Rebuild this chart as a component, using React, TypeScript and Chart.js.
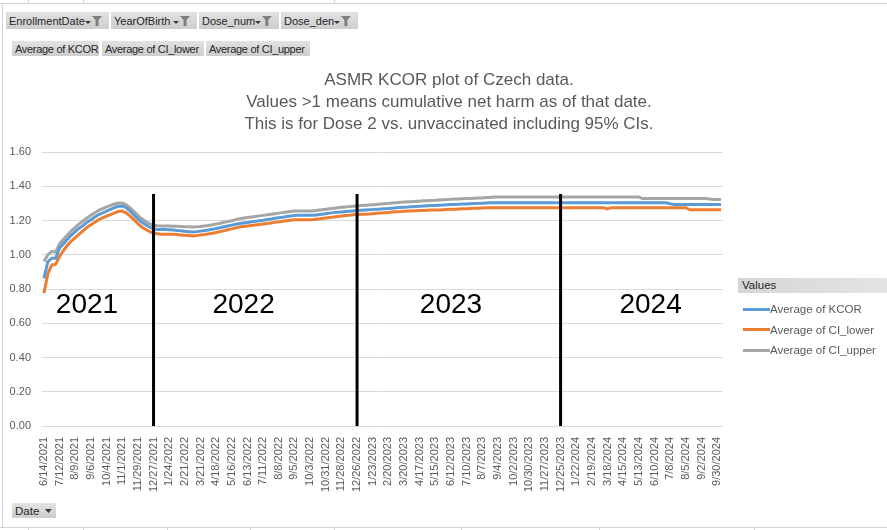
import React, { useEffect, useRef } from 'react';
import { Chart, registerables } from 'chart.js';

Chart.register(...registerables);

// ---------------- data ----------------
const kcor = [
  0.862, 0.96, 0.98, 0.98, 1.04, 1.065, 1.09, 1.115, 1.135, 1.155,
  1.17, 1.19, 1.205, 1.22, 1.235, 1.245, 1.255, 1.265, 1.275, 1.283,
  1.285, 1.275, 1.255, 1.233, 1.21, 1.19, 1.175, 1.162, 1.152, 1.147,
  1.147, 1.147, 1.146, 1.145, 1.142, 1.14, 1.137, 1.135, 1.133, 1.135,
  1.138, 1.141, 1.145, 1.149, 1.153, 1.158, 1.163, 1.168, 1.173, 1.178,
  1.182, 1.185, 1.188, 1.192, 1.195, 1.199, 1.202, 1.206, 1.209, 1.213,
  1.216, 1.219, 1.223, 1.226, 1.229, 1.23, 1.23, 1.23, 1.23, 1.231,
  1.234, 1.237, 1.24, 1.243, 1.246, 1.248, 1.25, 1.252, 1.254, 1.256,
  1.258, 1.26, 1.262, 1.263, 1.264, 1.266, 1.267, 1.269, 1.27, 1.272,
  1.274, 1.276, 1.278, 1.279, 1.281, 1.282, 1.283, 1.285, 1.286, 1.287,
  1.288, 1.289, 1.29, 1.292, 1.293, 1.294, 1.295, 1.296, 1.297, 1.298,
  1.299, 1.3, 1.301, 1.302, 1.303, 1.304, 1.304, 1.304, 1.304, 1.304,
  1.304, 1.304, 1.304, 1.304, 1.304, 1.304, 1.304, 1.304, 1.304, 1.304,
  1.304, 1.304, 1.304, 1.304, 1.304, 1.304, 1.304, 1.304, 1.304, 1.304,
  1.304, 1.304, 1.304, 1.304, 1.304, 1.304, 1.304, 1.304, 1.304, 1.304,
  1.304, 1.304, 1.304, 1.304, 1.304, 1.304, 1.304, 1.304, 1.304, 1.304,
  1.298, 1.294, 1.294, 1.294, 1.294, 1.294, 1.294, 1.294, 1.294, 1.294,
  1.294, 1.294, 1.294, 1.294,
];

const ciLower = [
  0.775, 0.89, 0.94, 0.945, 0.99, 1.025, 1.055, 1.08, 1.1, 1.12,
  1.14, 1.16, 1.175, 1.19, 1.205, 1.215, 1.225, 1.235, 1.245, 1.252,
  1.255, 1.245, 1.226, 1.205, 1.182, 1.162, 1.147, 1.135, 1.127, 1.122,
  1.12, 1.119, 1.12, 1.12, 1.118, 1.116, 1.114, 1.112, 1.11, 1.112,
  1.115, 1.118, 1.122, 1.126, 1.13, 1.135, 1.14, 1.146, 1.151, 1.157,
  1.162, 1.165, 1.168, 1.171, 1.174, 1.177, 1.18, 1.183, 1.186, 1.189,
  1.192, 1.195, 1.198, 1.201, 1.204, 1.205, 1.205, 1.205, 1.205, 1.206,
  1.209, 1.212, 1.215, 1.218, 1.221, 1.224, 1.226, 1.229, 1.231, 1.234,
  1.235, 1.236, 1.237, 1.238, 1.24, 1.242, 1.244, 1.245, 1.247, 1.249,
  1.251, 1.252, 1.254, 1.255, 1.256, 1.257, 1.258, 1.259, 1.26, 1.261,
  1.262, 1.262, 1.263, 1.264, 1.265, 1.266, 1.267, 1.268, 1.269, 1.27,
  1.271, 1.272, 1.273, 1.274, 1.275, 1.275, 1.275, 1.275, 1.275, 1.275,
  1.275, 1.275, 1.275, 1.275, 1.275, 1.275, 1.275, 1.275, 1.275, 1.275,
  1.275, 1.275, 1.275, 1.275, 1.275, 1.275, 1.275, 1.275, 1.275, 1.275,
  1.275, 1.275, 1.275, 1.275, 1.268, 1.275, 1.275, 1.275, 1.275, 1.275,
  1.275, 1.275, 1.275, 1.275, 1.275, 1.275, 1.275, 1.275, 1.275, 1.275,
  1.275, 1.275, 1.275, 1.275, 1.275, 1.263, 1.263, 1.263, 1.263, 1.263,
  1.263, 1.263, 1.263, 1.263,
];

const ciUpper = [
  0.96, 1.0, 1.02, 1.015, 1.065, 1.09, 1.115, 1.14, 1.16, 1.18,
  1.197, 1.215, 1.23, 1.245, 1.26, 1.27, 1.28, 1.288, 1.296, 1.302,
  1.302, 1.292, 1.274, 1.252, 1.23, 1.21, 1.194, 1.181, 1.172, 1.169,
  1.168, 1.168, 1.168, 1.167, 1.166, 1.165, 1.164, 1.163, 1.162, 1.163,
  1.165, 1.168, 1.171, 1.175, 1.179, 1.184, 1.189, 1.194, 1.199, 1.205,
  1.211, 1.214, 1.217, 1.221, 1.224, 1.227, 1.23, 1.233, 1.237, 1.24,
  1.243, 1.246, 1.249, 1.252, 1.255, 1.256, 1.256, 1.256, 1.256, 1.257,
  1.26, 1.263, 1.266, 1.269, 1.272, 1.275, 1.277, 1.279, 1.281, 1.283,
  1.285, 1.287, 1.289, 1.29, 1.292, 1.294, 1.296, 1.298, 1.3, 1.302,
  1.304, 1.306, 1.308, 1.309, 1.31, 1.312, 1.313, 1.315, 1.316, 1.317,
  1.318, 1.32, 1.321, 1.322, 1.324, 1.325, 1.326, 1.327, 1.328, 1.329,
  1.33, 1.331, 1.332, 1.334, 1.335, 1.337, 1.337, 1.337, 1.337, 1.337,
  1.337, 1.337, 1.337, 1.337, 1.337, 1.337, 1.337, 1.337, 1.337, 1.337,
  1.337, 1.337, 1.337, 1.337, 1.337, 1.337, 1.337, 1.337, 1.337, 1.337,
  1.337, 1.337, 1.337, 1.337, 1.337, 1.337, 1.337, 1.337, 1.337, 1.337,
  1.337, 1.337, 1.337, 1.328, 1.328, 1.328, 1.328, 1.328, 1.328, 1.328,
  1.328, 1.328, 1.328, 1.328, 1.328, 1.328, 1.328, 1.328, 1.328, 1.328,
  1.325, 1.322, 1.322, 1.322,
];

// weekly categories starting on 6/14/2021
const firstWeek = Date.UTC(2021, 5, 14);
const categories: string[] = kcor.map((_, i) => {
  const d = new Date(firstWeek + i * 7 * 86400000);
  return `${d.getUTCMonth() + 1}/${d.getUTCDate()}/${d.getUTCFullYear()}`;
});

const seriesNames = ['Average of KCOR', 'Average of CI_lower', 'Average of CI_upper'];
const seriesColors = ['#5B9BD5', '#ED7D31', '#A5A5A5'];

const yTicks = { min: 0, max: 1.6, step: 0.2 };

const dividerDates = ['12/27/2021', '12/26/2022', '12/25/2023'];
const dividerTop = 1.355;

const yearLabels = ['2021', '2022', '2023', '2024'];
const yearAnchors = ['8/30/2021', '6/6/2022', '6/12/2023', '6/3/2024'];
const yearBaseline = 0.66;

const titleLines = [
  'ASMR KCOR plot of Czech data.',
  'Values >1 means cumulative net harm as of that date.',
  'This is for Dose 2 vs. unvaccinated including 95% CIs.',
];

const filterFields = ['EnrollmentDate', 'YearOfBirth', 'Dose_num', 'Dose_den'];
const valueFields = ['Average of KCOR', 'Average of CI_lower', 'Average of CI_upper'];

const FONT = '"Liberation Sans", Arial, sans-serif';

const annotationPlugin = {
  id: 'annot',
  afterDatasetsDraw(chart: any) {
    const { ctx, scales } = chart;
    const xs = scales.x;
    const ys = scales.y;
    ctx.save();
    ctx.strokeStyle = '#000000';
    ctx.lineWidth = 3;
    dividerDates.forEach((d) => {
      const idx = categories.indexOf(d);
      const x = xs.getPixelForValue(idx);
      ctx.beginPath();
      ctx.moveTo(x, ys.getPixelForValue(dividerTop));
      ctx.lineTo(x, ys.getPixelForValue(0));
      ctx.stroke();
    });
    ctx.fillStyle = '#000000';
    ctx.font = `28px ${FONT}`;
    ctx.textAlign = 'center';
    ctx.textBaseline = 'alphabetic';
    yearLabels.forEach((t, i) => {
      const idx = categories.indexOf(yearAnchors[i]);
      ctx.fillText(t, xs.getPixelForValue(idx), ys.getPixelForValue(yearBaseline));
    });
    ctx.restore();
  },
};

function Funnel() {
  return (
    <svg width="18" height="12" viewBox="0 0 18 12" style={{ marginLeft: 'auto', marginRight: 6 }}>
      <polygon points="0,6 6,6 3,9" fill="#3a3a3a" />
      <polygon points="7,1 17,1 13.5,5 13.5,11 10.5,11 10.5,5" fill="#7f7f7f" />
    </svg>
  );
}

const btnBg = 'linear-gradient(#e2e2e2, #cdcdcd)';

function App() {
  const canvasRef = useRef<HTMLCanvasElement | null>(null);

  useEffect(() => {
    const canvas = canvasRef.current;
    if (!canvas) return;
    const datasets = [kcor, ciLower, ciUpper].map((vals, i) => ({
      label: seriesNames[i],
      data: vals,
      borderColor: seriesColors[i],
      backgroundColor: seriesColors[i],
      borderWidth: 3,
      pointRadius: 0,
      tension: 0,
      fill: false,
    }));
    const chart = new Chart(canvas, {
      type: 'line',
      data: { labels: categories, datasets },
      options: {
        animation: false,
        responsive: false,
        maintainAspectRatio: false,
        layout: { padding: { left: 0, right: 164, top: 152, bottom: 0 } },
        plugins: {
          legend: { display: false },
          title: { display: false },
          tooltip: { enabled: false },
        },
        scales: {
          x: {
            type: 'category',
            offset: true,
            grid: { display: false },
            border: { display: false },
            ticks: {
              autoSkip: false,
              maxRotation: 90,
              minRotation: 90,
              padding: 3,
              color: '#595959',
              font: { family: FONT, size: 11 },
              callback: (_v: any, i: number) => (i % 4 === 0 ? categories[i] : null),
            },
            afterFit: (s: any) => {
              s.height = 104;
            },
          },
          y: {
            min: yTicks.min,
            max: yTicks.max,
            ticks: {
              stepSize: yTicks.step,
              padding: 11,
              color: '#595959',
              font: { family: FONT, size: 11 },
              callback: (v: any) => Number(v).toFixed(2),
            },
            grid: { color: '#d9d9d9', drawTicks: false, lineWidth: 1 },
            border: { display: false },
            afterFit: (s: any) => {
              s.width = 42;
            },
          },
        },
      },
      plugins: [annotationPlugin],
    } as any);
    return () => chart.destroy();
  }, []);

  const filterWidths = [103, 86, 80, 77];
  const filterLefts = [6, 111, 199, 281];
  const valueWidths = [87, 102, 104];
  const valueLefts = [12, 102, 206];
  const cellLine = '#d4d4d4';

  return (
    <div
      style={{
        position: 'fixed',
        left: 0,
        top: 0,
        width: 887,
        height: 530,
        background: '#ffffff',
        overflow: 'hidden',
        fontFamily: FONT,
      }}
    >
      {/* worksheet cell lines */}
      <div style={{ position: 'absolute', left: 0, top: 3, width: 887, height: 1, background: cellLine }} />
      {[28, 83, 334].map((x) => (
        <div key={'t' + x} style={{ position: 'absolute', left: x, top: 0, width: 1, height: 3, background: cellLine }} />
      ))}
      <div style={{ position: 'absolute', left: 2, top: 3, width: 1, height: 524, background: cellLine }} />
      <div style={{ position: 'absolute', left: 0, top: 527, width: 887, height: 1, background: cellLine }} />
      {[28, 83, 167, 250, 334, 461, 599, 754].map((x) => (
        <div key={'b' + x} style={{ position: 'absolute', left: x, top: 527, width: 1, height: 3, background: cellLine }} />
      ))}

      <canvas
        ref={canvasRef}
        width={887}
        height={530}
        style={{ position: 'absolute', left: 0, top: 0, width: 887, height: 530 }}
      />

      {/* title */}
      <div
        style={{
          position: 'absolute',
          left: 149,
          top: 69,
          width: 600,
          textAlign: 'center',
          color: '#595959',
          fontSize: 17,
          lineHeight: '22px',
        }}
      >
        {titleLines.map((t) => (
          <div key={t}>{t}</div>
        ))}
      </div>

      {/* filter field buttons */}
      {filterFields.map((f, i) => (
        <div
          key={f}
          style={{
            position: 'absolute',
            left: filterLefts[i],
            top: 12,
            width: filterWidths[i],
            height: 17,
            background: btnBg,
            boxSizing: 'border-box',
            paddingLeft: 3,
            display: 'flex',
            alignItems: 'center',
            fontSize: 11,
            color: '#262626',
            whiteSpace: 'nowrap',
          }}
        >
          <span>{f}</span>
          <Funnel />
        </div>
      ))}

      {valueFields.map((f, i) => (
        <div
          key={f}
          style={{
            position: 'absolute',
            left: valueLefts[i],
            top: 41,
            width: valueWidths[i],
            height: 15,
            background: btnBg,
            boxSizing: 'border-box',
            paddingLeft: 3,
            display: 'flex',
            alignItems: 'center',
            fontSize: 11,
            color: '#262626',
            whiteSpace: 'nowrap',
            letterSpacing: -0.3,
          }}
        >
          {f}
        </div>
      ))}

      {/* Date axis button */}
      <div
        style={{
          position: 'absolute',
          left: 12,
          top: 503,
          width: 44,
          height: 15,
          background: btnBg,
          boxSizing: 'border-box',
          paddingLeft: 3,
          display: 'flex',
          alignItems: 'center',
          fontSize: 11.5,
          color: '#262626',
        }}
      >
        <span>Date</span>
        <svg width="12" height="8" viewBox="0 0 12 8" style={{ marginLeft: 5 }}>
          <polygon points="1,2 8,2 4.5,6" fill="#3a3a3a" />
        </svg>
      </div>

      {/* legend */}
      <div
        style={{
          position: 'absolute',
          left: 738,
          top: 278,
          width: 149,
          height: 15,
          background: 'linear-gradient(90deg, #d6d6d6, #e4e4e4)',
          boxSizing: 'border-box',
          paddingLeft: 4,
          fontSize: 11.5,
          lineHeight: '15px',
          color: '#262626',
        }}
      >
        Values
      </div>
      {seriesNames.map((n, i) => (
        <div
          key={n}
          style={{
            position: 'absolute',
            left: 743,
            top: 301 + i * 20.5,
            height: 16,
            display: 'flex',
            alignItems: 'center',
            fontSize: 11.5,
            color: '#595959',
            whiteSpace: 'nowrap',
          }}
        >
          <div style={{ width: 27, height: 3, background: seriesColors[i] }} />
          <span>{n}</span>
        </div>
      ))}
    </div>
  );
}

export default App;
